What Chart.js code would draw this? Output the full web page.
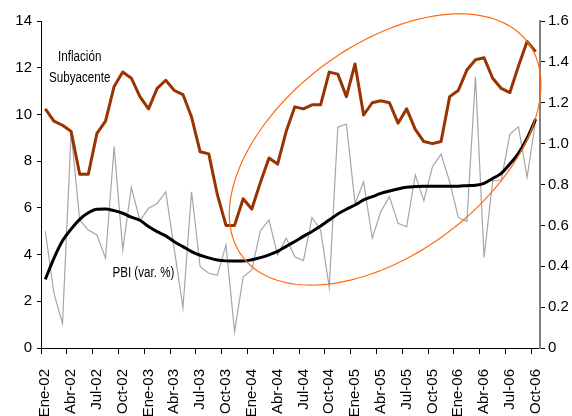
<!DOCTYPE html>
<html>
<head>
<meta charset="utf-8">
<script src="https://cdn.jsdelivr.net/npm/chart.js"></script>
<style>
  html, body { margin: 0; padding: 0; background: #fff; }
</style>
</head>
<body>
<canvas id="myChart" width="572" height="416"></canvas>
<script>
// meses ene-2002 a oct-2006
var meses = ['Ene', 'Feb', 'Mar', 'Abr', 'May', 'Jun', 'Jul', 'Ago', 'Set', 'Oct', 'Nov', 'Dic'];
var anios = ['02', '03', '04', '05', '06'];
var ultimoMes = 10; // oct-06

var etiquetas = [];
anios.forEach(function (a, j) {
    meses.forEach(function (m, k) {
        if (j < anios.length - 1 || k < ultimoMes) etiquetas.push(m + '-' + a);
    });
});

// inflacion subyacente (eje derecho, var. % mensual)
var inflacion = [1.17, 1.11, 1.09, 1.06, 0.85, 0.85, 1.05, 1.11, 1.28, 1.35,
    1.32, 1.23, 1.17, 1.27, 1.31, 1.26, 1.24, 1.13, 0.96, 0.95,
    0.75, 0.60, 0.60, 0.73, 0.68, 0.81, 0.93, 0.90, 1.06, 1.18,
    1.17, 1.19, 1.19, 1.35, 1.34, 1.23, 1.39, 1.14, 1.20, 1.21,
    1.20, 1.10, 1.17, 1.07, 1.01, 1.00, 1.01, 1.23, 1.26, 1.36,
    1.41, 1.42, 1.32, 1.27, 1.25, 1.38, 1.50, 1.45];

// PBI mensual (eje izquierdo)
var pbi = [5.0, 2.35, 1.05, 9.26, 5.48, 5.05, 4.84, 3.84, 8.62, 4.2,
    6.88, 5.45, 5.98, 6.19, 6.69, 4.2, 1.73, 6.69, 3.48, 3.2,
    3.12, 4.41, 0.7, 3.05, 3.34, 5.02, 5.48, 3.98, 4.7, 3.91,
    3.74, 5.59, 5.05, 2.6, 9.45, 9.59, 6.19, 7.12, 4.7, 5.84,
    6.48, 5.34, 5.19, 7.41, 6.31, 7.76, 8.3, 7.12, 5.59, 5.41,
    11.61, 3.88, 7.16, 7.19, 9.16, 9.47, 7.31, 9.76];

// PBI tendencia
var pbiTendencia = [2.94, 3.84, 4.59, 5.09, 5.51, 5.79, 5.94, 5.95, 5.88, 5.77,
    5.6, 5.47, 5.2, 4.98, 4.8, 4.55, 4.34, 4.13, 3.97, 3.86,
    3.77, 3.73, 3.72, 3.72, 3.78, 3.87, 3.99, 4.14, 4.35, 4.56,
    4.78, 4.99, 5.22, 5.48, 5.74, 5.94, 6.12, 6.34, 6.48, 6.62,
    6.72, 6.81, 6.88, 6.91, 6.93, 6.93, 6.93, 6.93, 6.93, 6.95,
    6.97, 7.05, 7.26, 7.48, 7.88, 8.33, 8.98, 9.8];

// elipse y textos en unidades de los ejes (indice de mes, valor eje izq.)
var elipse = { centro: [39.5, 8.5], ejeA: [16.6, 4.58], ejeB: [7.24, -3.57] };
var textos = [
    { texto: 'Inflación', x: 4.0, y: 12.46 },
    { texto: 'Subyacente', x: 4.0, y: 11.56 },
    { texto: 'PBI (var. %)', x: 11.4, y: 3.21 }
];

Chart.defaults.font.family = "'Liberation Sans', Arial, sans-serif";
Chart.defaults.font.size = 15;
Chart.defaults.color = '#000';

const anotaciones = {
    id: 'anotaciones',
    afterDatasetsDraw(chart) {
        const ctx = chart.ctx;
        const x = chart.scales.x, y = chart.scales.y;
        ctx.save();
        ctx.strokeStyle = '#ff6a10';
        ctx.lineWidth = 1.2;
        ctx.beginPath();
        for (let k = 0; k <= 160; k++) {
            const t = k / 160 * 2 * Math.PI;
            const ix = elipse.centro[0] + elipse.ejeA[0] * Math.cos(t) + elipse.ejeB[0] * Math.sin(t);
            const iv = elipse.centro[1] + elipse.ejeA[1] * Math.cos(t) + elipse.ejeB[1] * Math.sin(t);
            const px = x.getPixelForValue(ix), py = y.getPixelForValue(iv);
            if (k === 0) ctx.moveTo(px, py); else ctx.lineTo(px, py);
        }
        ctx.closePath();
        ctx.stroke();

        // texto angosto (tipo Arial Narrow)
        ctx.fillStyle = '#000';
        ctx.font = "14px 'Liberation Sans', Arial, sans-serif";
        ctx.textAlign = 'center';
        ctx.textBaseline = 'middle';
        textos.forEach(function (t) {
            const px = x.getPixelForValue(t.x), py = y.getPixelForValue(t.y);
            ctx.save();
            ctx.translate(px, py);
            ctx.scale(0.83, 1);
            ctx.fillText(t.texto, 0, 0);
            ctx.restore();
        });
        ctx.restore();
    }
};

const data = {
    labels: etiquetas,
    datasets: [{
        label: 'Inflación Subyacente',
        data: inflacion,
        yAxisID: 'y1',
        borderColor: '#993300',
        borderWidth: 3,
        borderJoinStyle: 'round',
        order: 1
    }, {
        label: 'PBI tendencia',
        data: pbiTendencia,
        yAxisID: 'y',
        borderColor: '#000000',
        borderWidth: 3,
        cubicInterpolationMode: 'monotone',
        order: 2
    }, {
        label: 'PBI (var. %)',
        data: pbi,
        yAxisID: 'y',
        borderColor: '#a6a6a6',
        borderWidth: 1.2,
        order: 3
    }]
};

const config = {
    type: 'line',
    data: data,
    options: {
        responsive: false,
        animation: false,
        locale: 'en-US',
        layout: { padding: { top: 21, left: 0, right: 0, bottom: 0 } },
        elements: { point: { radius: 0 } },
        plugins: { legend: { display: false }, tooltip: { enabled: false } },
        scales: {
            x: {
                offset: true,
                grid: {
                    offset: true,
                    drawOnChartArea: false,
                    tickLength: 6,
                    color: ctx => ctx.index % 3 === 0 ? '#000' : 'rgba(0,0,0,0)'
                },
                border: { color: '#000', width: 1 },
                ticks: {
                    autoSkip: false,
                    minRotation: 90,
                    maxRotation: 90,
                    padding: 15,
                    callback: (v, i) => i % 3 === 0 ? etiquetas[i] : ''
                },
                afterFit: s => { s.height = 68; }
            },
            y: {
                position: 'left',
                min: 0,
                max: 14,
                ticks: { stepSize: 2, padding: 5 },
                grid: { drawOnChartArea: false, tickLength: 4, color: '#000' },
                border: { color: '#000', width: 1 },
                afterFit: s => { s.width = 41; }
            },
            y1: {
                position: 'right',
                min: 0,
                max: 1.6,
                ticks: { stepSize: 0.2, padding: 3 },
                grid: { drawOnChartArea: false, tickLength: 5, color: '#000' },
                border: { color: '#808080', width: 2 },
                afterFit: s => { s.width = 32; }
            }
        }
    },
    plugins: [anotaciones]
};

const myChart = new Chart(document.getElementById('myChart'), config);
</script>
</body>
</html>
